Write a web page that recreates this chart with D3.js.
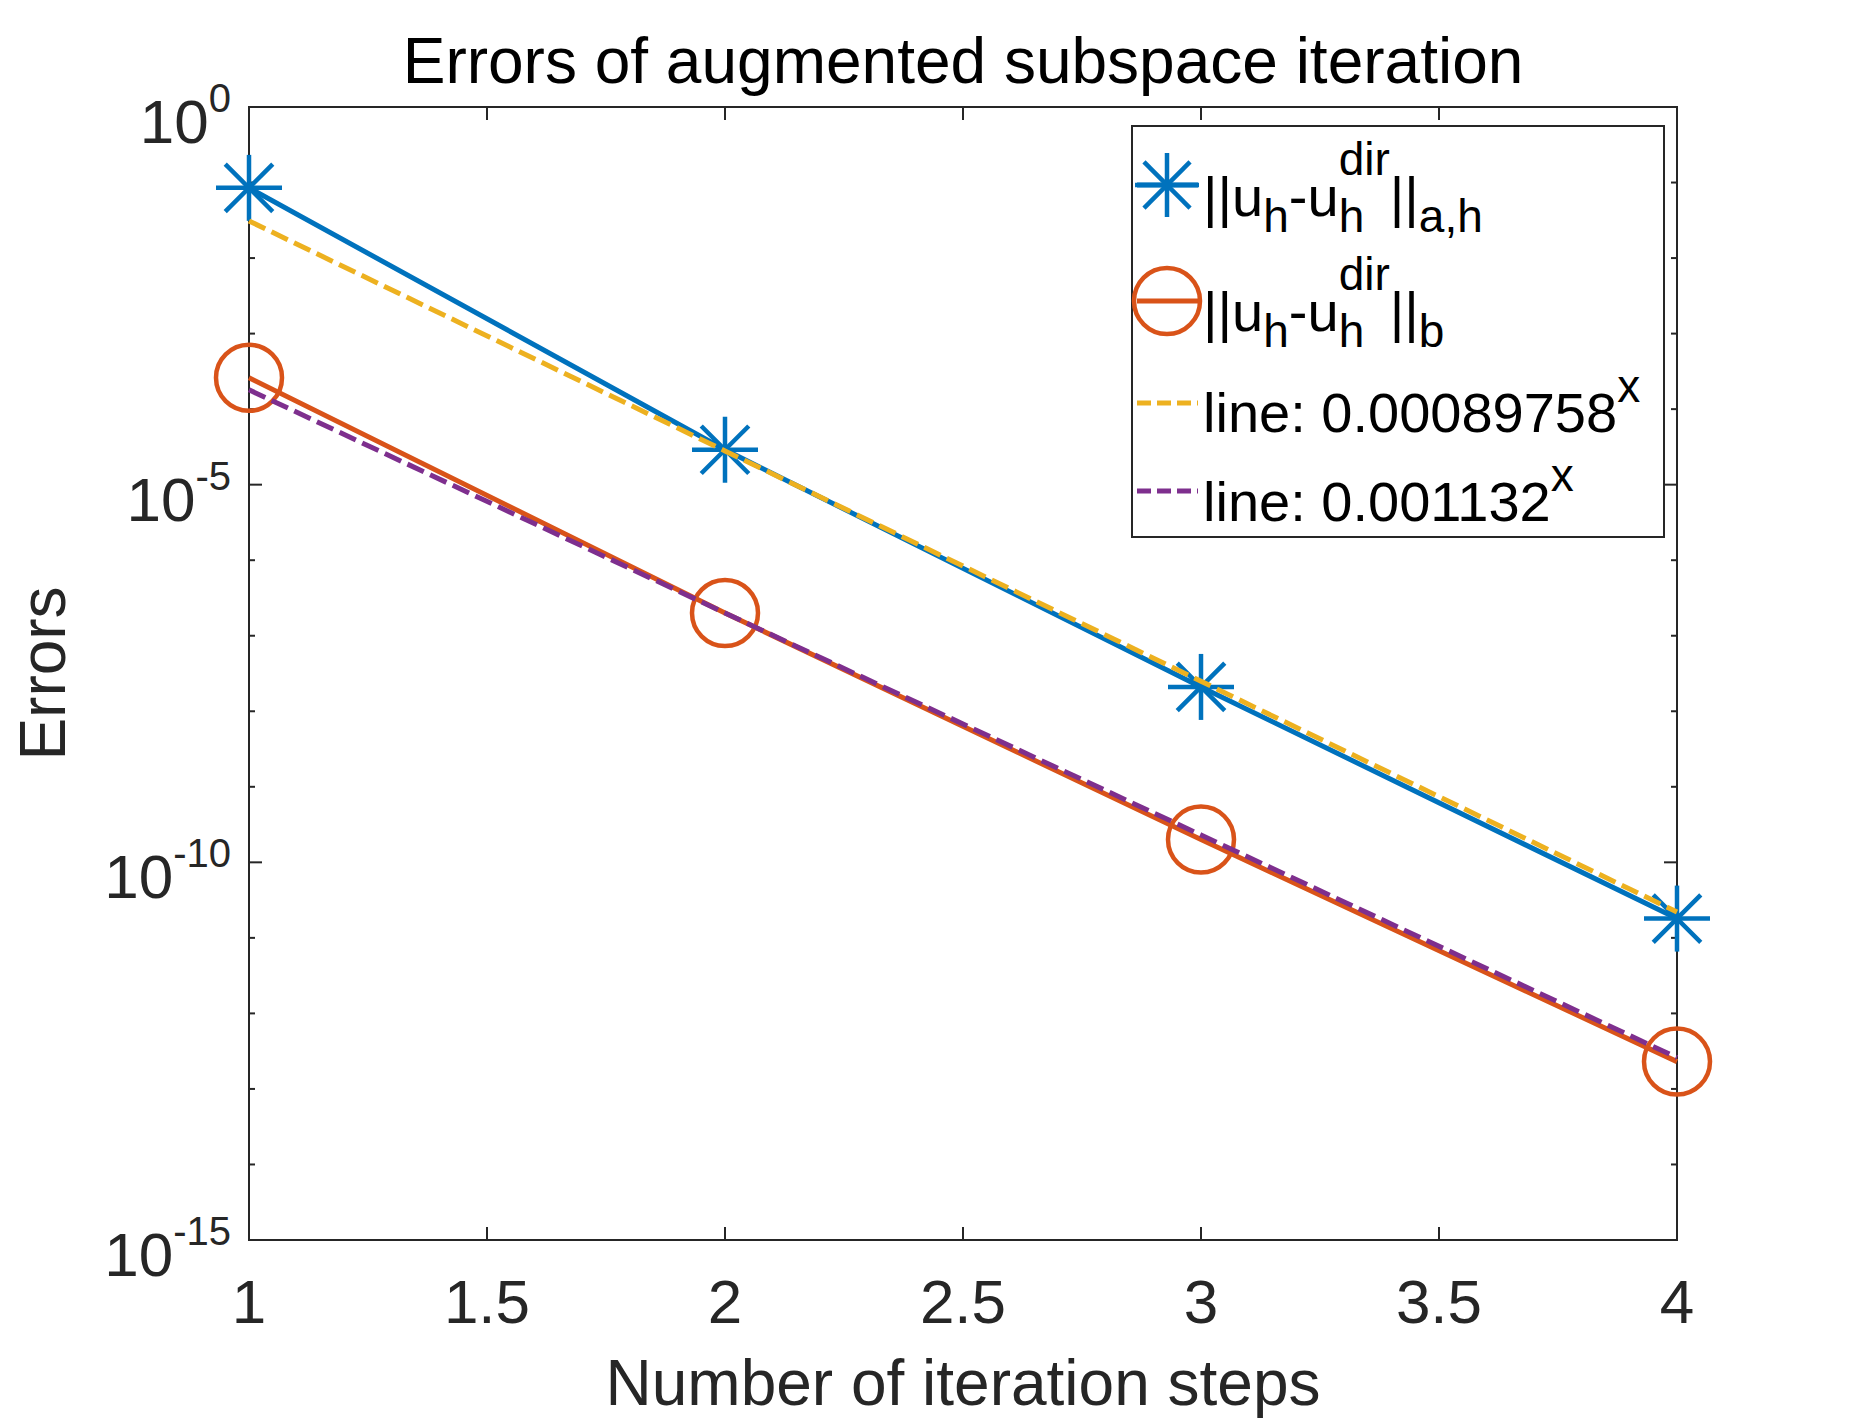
<!DOCTYPE html>
<html>
<head>
<meta charset="utf-8">
<script src="https://cdn.jsdelivr.net/npm/d3@7"></script>
<style>
  body { margin: 0; background: #fff; }
  text { font-family: "Liberation Sans", Arial, Helvetica, sans-serif; }
</style>
</head>
<body>
<div id="chart"></div>
<script>
// data
var steps = [1, 2, 3, 4];
var errAH = [8.5e-2, 2.9e-5, 2.1e-8, 1.8e-11];   // ||u_h - u_h^dir||_{a,h}
var errB = [2.6e-4, 2.0e-7, 2.0e-10, 2.3e-13];   // ||u_h - u_h^dir||_b
var fitA = [3.1e-2, 2.8e-5, 2.5e-8, 2.2e-11];    // line: 0.00089758^x
var fitB = [1.8e-4, 2.0e-7, 2.3e-10, 2.6e-13];   // line: 0.001132^x
var xTicks = [1, 1.5, 2, 2.5, 3, 3.5, 4];
var yExps = d3.range(0, -16, -1);
var yLabelExps = [0, -5, -10, -15];

var W = 1854, H = 1420;
var pLeft = 249, pRight = 1677, pTop = 107, pBottom = 1240;
var ink = '#262626';
var colors = ['#0072BD', '#D95319', '#EDB120', '#7E2F8E'];
var lw = 5;

var svg = d3.select('#chart').append('svg')
  .attr('width', W).attr('height', H);

var x = d3.scaleLinear().domain([1, 4]).range([pLeft, pRight]);
var y = d3.scaleLog().domain([1e-15, 1]).range([pBottom, pTop]);

// frame
svg.append('rect')
  .attr('x', pLeft).attr('y', pTop)
  .attr('width', pRight - pLeft).attr('height', pBottom - pTop)
  .attr('fill', 'none').attr('stroke', ink).attr('stroke-width', 2);

// x ticks (bottom and top, inward)
xTicks.forEach(function(t) {
  svg.append('line').attr('x1', x(t)).attr('x2', x(t))
    .attr('y1', pBottom).attr('y2', pBottom - 13).attr('stroke', ink).attr('stroke-width', 2);
  svg.append('line').attr('x1', x(t)).attr('x2', x(t))
    .attr('y1', pTop).attr('y2', pTop + 13).attr('stroke', ink).attr('stroke-width', 2);
  svg.append('text')
    .attr('x', x(t)).attr('y', 1323)
    .attr('text-anchor', 'middle')
    .attr('font-size', 62).attr('fill', ink)
    .text(t);
});

// y ticks, every decade; labels every 5
yExps.forEach(function(e) {
  var yy = y(Math.pow(10, e));
  var len = yLabelExps.indexOf(e) >= 0 ? 13 : 6;
  svg.append('line').attr('x1', pLeft).attr('x2', pLeft + len)
    .attr('y1', yy).attr('y2', yy).attr('stroke', ink).attr('stroke-width', 2);
  svg.append('line').attr('x1', pRight).attr('x2', pRight - len)
    .attr('y1', yy).attr('y2', yy).attr('stroke', ink).attr('stroke-width', 2);
});
yLabelExps.forEach(function(e) {
  var yy = y(Math.pow(10, e));
  var t = svg.append('text')
    .attr('x', 231).attr('y', yy + 36)
    .attr('text-anchor', 'end')
    .attr('fill', ink).attr('font-size', 62);
  t.append('tspan').text('10');
  t.append('tspan').attr('font-size', 40).attr('dy', -31).text(e);
});

// titles
svg.append('text')
  .attr('x', (pLeft + pRight) / 2).attr('y', 83)
  .attr('text-anchor', 'middle').attr('font-size', 64).attr('fill', '#000')
  .text('Errors of augmented subspace iteration');
svg.append('text')
  .attr('x', (pLeft + pRight) / 2).attr('y', 1405)
  .attr('text-anchor', 'middle').attr('font-size', 64).attr('fill', ink)
  .text('Number of iteration steps');
svg.append('text')
  .attr('transform', 'translate(65,' + ((pTop + pBottom) / 2) + ') rotate(-90)')
  .attr('text-anchor', 'middle').attr('font-size', 64).attr('fill', ink)
  .text('Errors');

var line = d3.line()
  .x(function(d) { return x(d[0]); })
  .y(function(d) { return y(d[1]); });

function star(g, cx, cy, r, color) {
  var d = r * 0.72;
  var segs = [[-r, 0, r, 0], [0, -r, 0, r], [-d, -d, d, d], [-d, d, d, -d]];
  segs.forEach(function(s) {
    g.append('line')
      .attr('x1', cx + s[0]).attr('y1', cy + s[1])
      .attr('x2', cx + s[2]).attr('y2', cy + s[3])
      .attr('stroke', color).attr('stroke-width', 4.5);
  });
}

var plot = svg.append('g');

// series 1: blue stars
plot.append('path')
  .datum(d3.zip(steps, errAH))
  .attr('d', line).attr('fill', 'none')
  .attr('stroke', colors[0]).attr('stroke-width', lw);
steps.forEach(function(s, i) { star(plot, x(s), y(errAH[i]), 33, colors[0]); });

// series 2: orange circles
plot.append('path')
  .datum(d3.zip(steps, errB))
  .attr('d', line).attr('fill', 'none')
  .attr('stroke', colors[1]).attr('stroke-width', lw);
plot.selectAll('.circ')
  .data(d3.zip(steps, errB))
  .enter().append('circle')
  .attr('class', 'circ')
  .attr('cx', function(d) { return x(d[0]); })
  .attr('cy', function(d) { return y(d[1]); })
  .attr('r', 33)
  .attr('fill', 'none').attr('stroke', colors[1]).attr('stroke-width', 4.5);

// fitted lines
plot.append('path')
  .datum(d3.zip(steps, fitA))
  .attr('d', line).attr('fill', 'none')
  .attr('stroke', colors[2]).attr('stroke-width', lw)
  .attr('stroke-dasharray', '18,7');
plot.append('path')
  .datum(d3.zip(steps, fitB))
  .attr('d', line).attr('fill', 'none')
  .attr('stroke', colors[3]).attr('stroke-width', lw)
  .attr('stroke-dasharray', '18,7');

// legend
var lg = svg.append('g');
lg.append('rect')
  .attr('x', 1132).attr('y', 126).attr('width', 532).attr('height', 411)
  .attr('fill', '#fff').attr('stroke', ink).attr('stroke-width', 2);

// writes a TeX-like label: parts of {t, sub, sup}
function texLabel(g, x0, base, parts, supDy) {
  var cx = x0;
  parts.forEach(function(p) {
    var w = 0;
    if (p.t) {
      var m = g.append('text').attr('x', cx).attr('y', base)
        .attr('font-size', 56).attr('fill', '#000').text(p.t);
      w = m.node().getComputedTextLength();
    }
    var ws = 0;
    if (p.sub) {
      var s = g.append('text').attr('x', cx + w).attr('y', base + 16)
        .attr('font-size', 46).attr('fill', '#000').text(p.sub);
      ws = Math.max(ws, s.node().getComputedTextLength());
    }
    if (p.sup) {
      var u = g.append('text').attr('x', cx + w).attr('y', base + (p.sub ? -41 : supDy))
        .attr('font-size', 46).attr('fill', '#000').text(p.sup);
      ws = Math.max(ws, u.node().getComputedTextLength());
    }
    cx += w + ws;
  });
}

var lx1 = 1137, lx2 = 1198, lcx = 1167, tx = 1203;

// entry 1
lg.append('line').attr('x1', lx1).attr('x2', lx2).attr('y1', 185).attr('y2', 185)
  .attr('stroke', colors[0]).attr('stroke-width', lw);
star(lg, lcx, 185, 32, colors[0]);
texLabel(lg, tx, 216, [{t: '||u', sub: 'h'}, {t: '-u', sub: 'h', sup: 'dir'}, {t: '||', sub: 'a,h'}], -30);

// entry 2
lg.append('line').attr('x1', lx1).attr('x2', lx2).attr('y1', 301).attr('y2', 301)
  .attr('stroke', colors[1]).attr('stroke-width', lw);
lg.append('circle').attr('cx', lcx).attr('cy', 301).attr('r', 33)
  .attr('fill', 'none').attr('stroke', colors[1]).attr('stroke-width', 4.5);
texLabel(lg, tx, 331, [{t: '||u', sub: 'h'}, {t: '-u', sub: 'h', sup: 'dir'}, {t: '||', sub: 'b'}], -30);

// entry 3
lg.append('line').attr('x1', lx1).attr('x2', lx2).attr('y1', 403).attr('y2', 403)
  .attr('stroke', colors[2]).attr('stroke-width', lw).attr('stroke-dasharray', '14,6');
texLabel(lg, tx, 432, [{t: 'line: 0.00089758', sup: 'x'}], -30);

// entry 4
lg.append('line').attr('x1', lx1).attr('x2', lx2).attr('y1', 491).attr('y2', 491)
  .attr('stroke', colors[3]).attr('stroke-width', lw).attr('stroke-dasharray', '14,6');
texLabel(lg, tx, 521, [{t: 'line: 0.001132', sup: 'x'}], -30);
</script>
</body>
</html>
